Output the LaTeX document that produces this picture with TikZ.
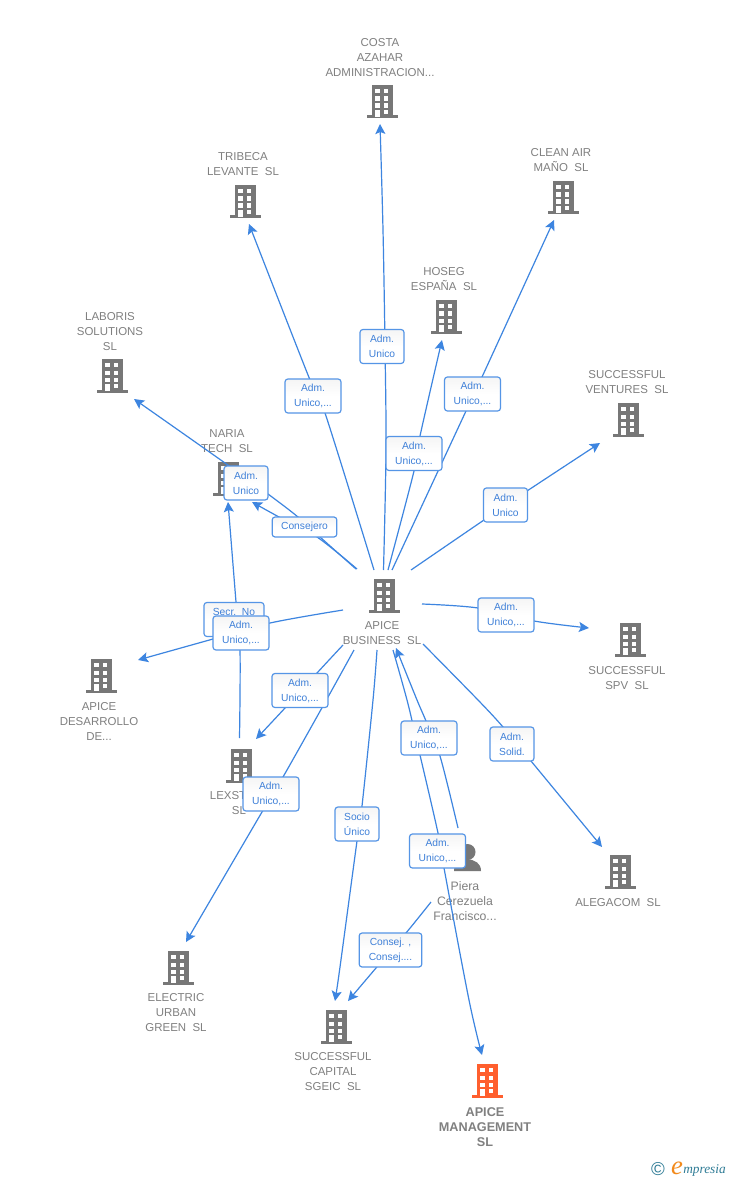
\documentclass[tikz,border=0pt]{standalone}
\usepackage{fontspec}
\setmainfont{Liberation Sans}
\newfontfamily\logofont{Liberation Serif}
\usetikzlibrary{arrows.meta}
\definecolor{linkblue}{HTML}{3D85E0}
\definecolor{labblue}{HTML}{3F80D8}
\definecolor{boxblue}{HTML}{5595E6}
\definecolor{bgray}{HTML}{777777}
\definecolor{tgray}{HTML}{808080}
\definecolor{morange}{HTML}{FF5F2E}
\definecolor{logoteal}{HTML}{2F7C96}
\definecolor{logoorange}{HTML}{F28A1C}
\tikzset{
 x=0.75pt,y=-0.75pt,
 bldgnode/.style={inner sep=0pt,minimum width=23.25pt,minimum height=25.5pt},
 name text/.style={text=tgray,align=center,inner sep=0pt,yshift=-0.75pt,font=\fontsize{8.6}{11.25}\selectfont},
 main text/.style={text=tgray,align=center,inner sep=0pt,yshift=-0.75pt,font=\fontsize{9.5}{11.25}\selectfont\bfseries},
 link/.style={draw=linkblue,line width=0.9pt},
 linkarrow/.style={link,-{Stealth[length=7.5pt,width=7.5pt,inset=1.5pt]}},
 lab/.style={draw=boxblue,line width=0.9pt,rounded corners=2.2pt,top color=black!4,bottom color=white,middle color=white,text=labblue,align=center,inner sep=0pt,minimum height=25.5pt,font=\fontsize{7.7}{11.25}\selectfont},
 labs/.style={lab,minimum width=33pt},
 labw/.style={lab,minimum width=42pt},
}
\newcommand{\bldg}[4]{%
 \node[bldgnode] (#1) at (#2,#3) {};
 \begin{scope}[shift={(#2,#3)}]
  \fill[#4] (-10.5,-17) rectangle (10.5,15);
  \fill[#4] (-15.5,13.5) rectangle (15.5,16.5);
  \foreach \wy in {-13,-5.5,1.5} {
   \fill[white] (-7,\wy) rectangle (-2.5,\wy+4.2);
   \fill[white] (1.5,\wy) rectangle (6,\wy+4.2);
  }
  \fill[white] (-7,8) rectangle (-2.5,15);
  \fill[white] (1.5,8) rectangle (6,12);
 \end{scope}}
\begin{document}
\begin{tikzpicture}
\useasboundingbox (0,0) rectangle (728,1180);
\fill[white] (0,0) rectangle (728,1180);
% buildings
\bldg{costa}{382}{102}{bgray}
\bldg{tribeca}{245}{202}{bgray}
\bldg{clean}{563}{198}{bgray}
\bldg{hoseg}{446}{317}{bgray}
\bldg{laboris}{112}{376}{bgray}
\bldg{ventures}{628}{420}{bgray}
\bldg{naria}{228}{479}{bgray}
\bldg{business}{384}{596}{bgray}
\bldg{spv}{630}{640}{bgray}
\bldg{desarrollo}{101}{676}{bgray}
\bldg{lexstart}{241}{766}{bgray}
\bldg{alegacom}{620}{872}{bgray}
\bldg{electric}{178}{968}{bgray}
\bldg{capital}{336}{1027}{bgray}
\bldg{management}{487}{1081}{morange}
% person
\node[inner sep=0pt,minimum size=20pt] (piera) at (467,858) {};
\fill[bgray] (467.5,852) circle (8);
\fill[bgray] (454,871) .. controls (454,863) and (460,860) .. (467,859) .. controls (475,860) and (481,863) .. (481,871) -- cycle;
% names
\node[name text] (tcosta) at (380,57) {COSTA\\AZAHAR\\ADMINISTRACION...};
\node[name text] (ttribeca) at (243,163.5) {TRIBECA\\LEVANTE~~SL};
\node[name text] (tclean) at (561,159.5) {CLEAN AIR\\MAÑO~~SL};
\node[name text] (thoseg) at (444,278.5) {HOSEG\\ESPAÑA~~SL};
\node[name text] (tlaboris) at (110,331) {LABORIS\\SOLUTIONS\\SL};
\node[name text] (tventures) at (627,381.5) {SUCCESSFUL\\VENTURES~~SL};
\node[name text] (tnaria) at (227,440.5) {NARIA\\TECH~~SL};
\node[name text] (tbusiness) at (382,632.5) {APICE\\BUSINESS~~SL};
\node[name text] (tspv) at (627,677.5) {SUCCESSFUL\\SPV~~SL};
\node[name text] (tdesarrollo) at (99,720) {APICE\\DESARROLLO\\DE...};
\node[name text] (tlexstart) at (239,802.5) {LEXSTART\\SL};
\node[name text] (talegacom) at (618,902) {ALEGACOM~~SL};
\node[name text,font=\fontsize{9.2}{11.25}\selectfont] (tpiera) at (465,900) {Piera\\Cerezuela\\Francisco...};
\node[name text] (telectric) at (176,1012) {ELECTRIC\\URBAN\\GREEN~~SL};
\node[name text] (tcapital) at (333,1071) {SUCCESSFUL\\CAPITAL\\SGEIC~~SL};
\node[main text] (tmanagement) at (485,1126) {APICE\\MANAGEMENT\\SL};
% connectors
\draw[linkarrow] plot[smooth,tension=.55] coordinates {(383.5,570) (386,450) (385,346) (383,230) (380,124)};
\draw[linkarrow] plot[smooth,tension=.55] coordinates {(374,570) (325,413) (310,380) (249,224)};
\draw[linkarrow] plot[smooth,tension=.55] coordinates {(392,570) (466,411) (482,377) (554,220)};
\draw[linkarrow] plot[smooth,tension=.55] coordinates {(388,570) (414,471) (420,436) (442,340)};
\draw[linkarrow] plot[smooth,tension=.55] coordinates {(411,570) (484,520) (527,491) (600,443)};
\draw[linkarrow] plot[smooth,tension=.55] coordinates {(422,604) (478,608) (534,621) (589,628)};
\draw[linkarrow] plot[smooth,tension=.55] coordinates {(423,644) (478,700) (503,727) (531,761) (602,847)};
\draw[linkarrow] plot[smooth,tension=.55] coordinates {(393,650) (407,700) (416,738) (438,833) (444,868) (469,1000) (482,1055)};
\draw[linkarrow] plot[smooth,tension=.55] coordinates {(458,828) (440,756) (426,721) (417,700) (396,648)};
\draw[linkarrow] plot[smooth,tension=.55] coordinates {(431,902) (406,933) (376,968) (348,1001)};
\draw[linkarrow] plot[smooth,tension=.55] coordinates {(377,650) (373,700) (362,806) (357,841) (340,967) (335,1001)};
\draw[linkarrow] plot[smooth,tension=.55] coordinates {(354,650) (328,697) (283,777) (262,812) (186,942)};
\draw[linkarrow] plot[smooth,tension=.55] coordinates {(343,645) (317,673) (285,708) (256,739)};
\draw[linkarrow] plot[smooth,tension=.55] coordinates {(343,610) (270,623) (213,639) (138,660)};
\draw[linkarrow] plot[smooth,tension=.55] coordinates {(239.5,738) (240,650) (236,602) (228,502)};
\draw[linkarrow] plot[smooth,tension=.55] coordinates {(356,569) (320,537) (298,517) (268,494) (225,463) (134,399)};
\draw[linkarrow] plot[smooth,tension=.55] coordinates {(357,569) (317,537) (279,517) (252,502)};
% labels
\node[labs] (bCosta) at (382,346.5) {Adm.\\Unico};
\node[labw] (bTribeca) at (313,396) {Adm.\\Unico,...};
\node[labw] (bClean) at (472.5,394) {Adm.\\Unico,...};
\node[labw] (bHoseg) at (414,453.5) {Adm.\\Unico,...};
\node[labs] (bVent) at (505.5,505) {Adm.\\Unico};
\node[labw] (bSpv) at (506,615) {Adm.\\Unico,...};
\node[labs] (bAleg) at (512,744) {Adm.\\Solid.};
\node[labw] (bPb) at (429,738) {Adm.\\Unico,...};
\node[labw] (bMan) at (437.5,851) {Adm.\\Unico,...};
\node[lab,minimum width=47pt] (bCap) at (390.5,950) {Consej. ,\\Consej....};
\node[labs] (bSocio) at (357,824) {Socio\\Único};
\node[labw] (bLex) at (300,690.5) {Adm.\\Unico,...};
\node[labw] (bEl) at (271,794) {Adm.\\Unico,...};
\node[lab,minimum width=45pt] (bNar) at (234,619.5) {Secr.~~No\\~};
\node[labw] (bDes) at (241,633) {Adm.\\Unico,...};
\node[lab,minimum width=48.5pt,minimum height=15pt] (bCon) at (304.5,527) {Consejero};
\node[labs] (bLab) at (246,483) {Adm.\\Unico};
% logo
\node[inner sep=0pt,text=logoteal,font=\fontsize{14}{16}\selectfont] (copy) at (658,1169) {©};
\node[inner sep=0pt,text=logoorange,font=\logofont\itshape\fontsize{20}{20}\selectfont] (logoe) at (677,1168) {e};
\node[inner sep=0pt,text=logoteal,anchor=west,font=\logofont\itshape\fontsize{10}{12}\selectfont] (logot) at (683,1170) {mpresia};
\end{tikzpicture}
\end{document}
